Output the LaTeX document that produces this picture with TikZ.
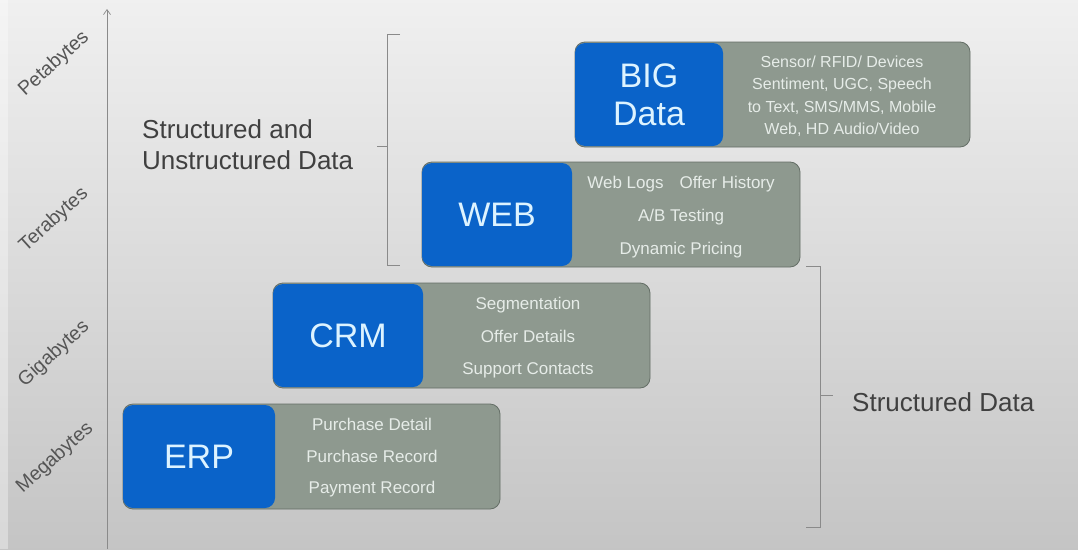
\documentclass[tikz,border=0pt]{standalone}
\usepackage{fontspec}
\setmainfont{Liberation Sans}
\usetikzlibrary{arrows.meta}

\definecolor{boxblue}{HTML}{0A63C9}
\definecolor{boxgray}{HTML}{8E998F}
\definecolor{boxedge}{HTML}{646E66}
\definecolor{bluetext}{HTML}{DDF3FF}
\definecolor{graytext}{HTML}{E6ECE8}
\definecolor{axisgray}{HTML}{8A8A8A}
\definecolor{labelgray}{HTML}{555555}
\definecolor{headgray}{HTML}{404040}

\tikzset{
  databar/.style={draw=boxedge, line width=0.8pt, fill=boxgray, rounded corners=10pt,
    minimum height=105pt, inner sep=0pt},
  tag/.style={fill=boxblue, rounded corners=10pt, minimum height=103pt, inner sep=0pt,
    text=bluetext, font=\fontsize{34}{38}\selectfont, align=center},
  items/.style={text=graytext, align=center, inner sep=0pt},
  sizelabel/.style={text=labelgray, rotate=42, inner sep=0pt, font=\fontsize{19.5}{21}\selectfont},
  bracketline/.style={draw=axisgray, line width=0.7pt},
  heading/.style={text=headgray, font=\fontsize{26}{31}\selectfont, align=left, inner sep=0pt}
}

\begin{document}
\begin{tikzpicture}[x=1pt,y=-1pt]
  % background
  \shade[top color=white!94!black, bottom color=white!77!black] (0,0) rectangle (1078,549);
  \fill[white, opacity=0.35] (0,0) rectangle (8,549);
  \useasboundingbox (0,0) rectangle (1078,549);

  % vertical size axis
  \coordinate (axisbottom) at (107,549);
  \coordinate (axistop) at (107,9);
  \draw[axisgray, line width=0.7pt, -{Straight Barb[length=5pt,width=7pt]}] (axisbottom) -- (axistop);

  \node[sizelabel] (peta) at (54,64) {Petabytes};
  \node[sizelabel] (tera) at (54,220) {Terabytes};
  \node[sizelabel] (giga) at (54,354) {Gigabytes};
  \node[sizelabel] (mega) at (55,458) {Megabytes};

  % ERP
  \node[databar, minimum width=377pt] (erpbar) at (311.5,456.5) {};
  \node[tag, minimum width=152pt] (erp) at (199,456.5) {ERP};
  \node[items, font=\fontsize{17}{31.5}\selectfont] (erplist) at (372,458)
    {Purchase Detail\\Purchase Record\\Payment Record};

  % CRM
  \node[databar, minimum width=377pt] (crmbar) at (461.5,335.5) {};
  \node[tag, minimum width=150pt] (crm) at (348,335.5) {CRM};
  \node[items, font=\fontsize{17}{32.5}\selectfont] (crmlist) at (528,338)
    {Segmentation\\Offer Details\\Support Contacts};

  % WEB
  \node[databar, minimum width=378pt] (webbar) at (611,214.5) {};
  \node[tag, minimum width=150pt] (web) at (497,214.5) {WEB};
  \node[items, font=\fontsize{17}{33}\selectfont] (weblist) at (681,217)
    {Web Logs\hspace{16pt}Offer History\\A/B Testing\\Dynamic Pricing};

  % BIG Data
  \node[databar, minimum width=395pt] (bigbar) at (772.5,94.5) {};
  \node[tag, minimum width=148pt] (big) at (649,94.5) {BIG\\Data};
  \node[items, font=\fontsize{16}{22.5}\selectfont] (biglist) at (842,96)
    {Sensor/ RFID/ Devices\\Sentiment, UGC, Speech\\to Text, SMS/MMS, Mobile\\Web, HD Audio/Video};

  % bracket: structured and unstructured data
  \coordinate (ua) at (400,34);
  \coordinate (ub) at (387,34);
  \coordinate (uc) at (387,265);
  \coordinate (ud) at (400,265);
  \coordinate (um) at (387,146);
  \coordinate (ut) at (377,146);
  \draw[bracketline] (ua) -- (ub) -- (uc) -- (ud);
  \draw[bracketline] (um) -- (ut);
  \node[heading, anchor=west] (unstruct) at (142,145) {Structured and\\Unstructured Data};

  % bracket: structured data
  \coordinate (sa) at (806,266);
  \coordinate (sb) at (820,266);
  \coordinate (sc) at (820,527);
  \coordinate (sd) at (806,527);
  \coordinate (sm) at (820,395);
  \coordinate (st) at (833,395);
  \draw[bracketline] (sa) -- (sb) -- (sc) -- (sd);
  \draw[bracketline] (sm) -- (st);
  \node[heading, anchor=west] (struct) at (852,402) {Structured Data};
\end{tikzpicture}
\end{document}
